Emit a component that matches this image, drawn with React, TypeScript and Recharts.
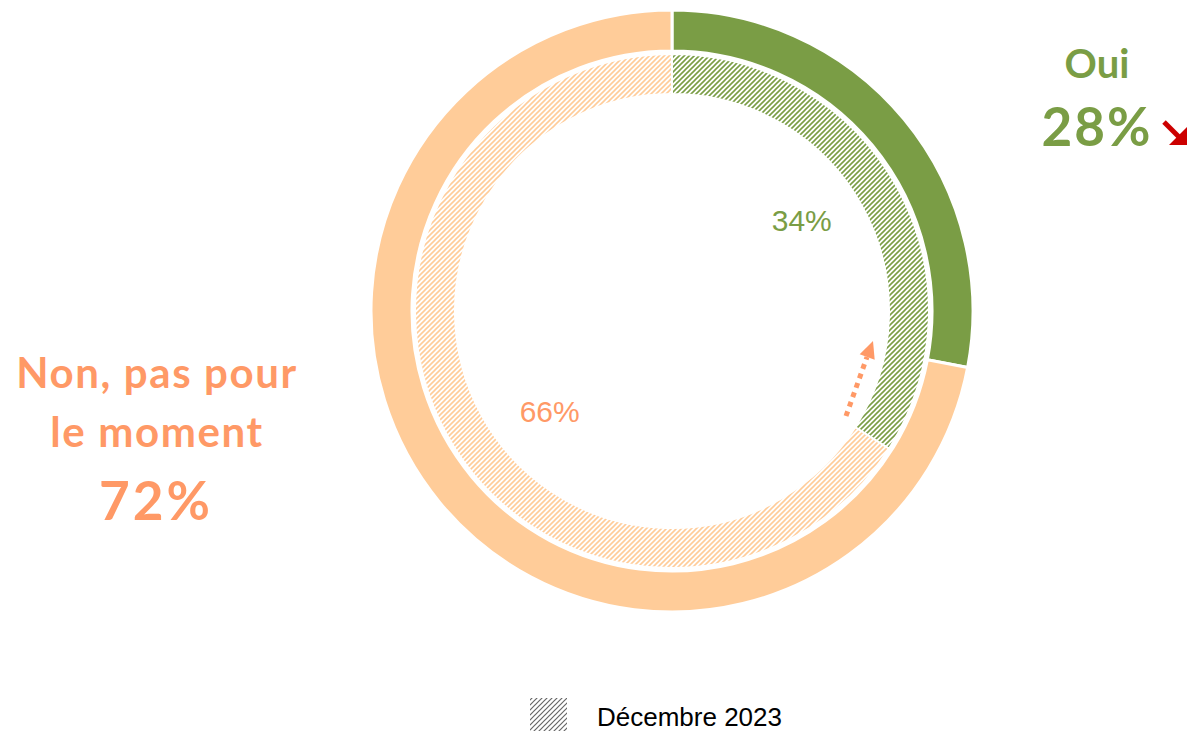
import React from "react";
import { PieChart, Pie, Cell } from "recharts";

const categories = ["Oui", "Non, pas pour le moment"];
const currentValues = [28, 72];
const previousValues = [34, 66];
const previousLabel = "Décembre 2023";

const GREEN = "#7A9D45";
const ORANGE_LIGHT = "#FFCC99";
const ORANGE_TEXT = "#FF9966";

const currentData = categories.map((name, i) => ({ name, value: currentValues[i] }));
const previousData = categories.map((name, i) => ({ name, value: previousValues[i] }));

const RAD = Math.PI / 180;
const labelAngleOffsets = [6, 10.5];

const renderInnerLabel = (props: any) => {
  const { cx, cy, midAngle, index, value } = props;
  const a = (midAngle + labelAngleOffsets[index]) * RAD;
  const r = 158;
  const x = cx + r * Math.cos(a);
  const y = cy - r * Math.sin(a);
  return (
    <text
      x={x}
      y={y}
      textAnchor="middle"
      dominantBaseline="central"
      fill={index === 0 ? GREEN : ORANGE_TEXT}
      fontFamily="'Liberation Sans', Arial, sans-serif"
      fontSize={30}
    >
      {value}%
    </text>
  );
};

const hatch = (id: string, color: string, w: number) => (
  <pattern id={id} patternUnits="userSpaceOnUse" width="5" height="5">
    <path d="M0,5 L5,0 M-1,1 L1,-1 M4,6 L6,4" stroke={color} strokeWidth={w} />
  </pattern>
);

export default function App() {
  const W = 1189;
  const H = 731;
  const boldFont = "Lato, sans-serif";
  return (
    <div style={{ position: "relative", width: W, height: H, overflow: "hidden" }}>
      <style>{`body{margin:0}`}</style>
      <PieChart width={W} height={H} margin={{ top: 0, right: 0, bottom: 0, left: 0 }}>
        <defs>
          {hatch("hatchGreen", GREEN, 1.6)}
          {hatch("hatchOrange", ORANGE_LIGHT, 1.6)}
        </defs>
        <Pie
          data={currentData}
          dataKey="value"
          cx={672}
          cy={311}
          innerRadius={260}
          outerRadius={301}
          startAngle={90}
          endAngle={-270}
          stroke="#fff"
          strokeWidth={3}
          isAnimationActive={false}
          label={false}
          labelLine={false}
        >
          <Cell fill={GREEN} />
          <Cell fill={ORANGE_LIGHT} />
        </Pie>
        <Pie
          data={previousData}
          dataKey="value"
          cx={672}
          cy={311}
          innerRadius={217}
          outerRadius={257}
          startAngle={90}
          endAngle={-270}
          stroke="#fff"
          strokeWidth={2}
          isAnimationActive={false}
          label={renderInnerLabel}
          labelLine={false}
        >
          <Cell fill="url(#hatchGreen)" />
          <Cell fill="url(#hatchOrange)" />
        </Pie>
      </PieChart>
      <svg width={W} height={H} style={{ position: "absolute", left: 0, top: 0, pointerEvents: "none" }}>
        <defs>{hatch("hatchGrayLegend", "#666", 1.2)}</defs>
        {/* Oui label */}
        <text x={1097} y={78} textAnchor="middle" fill={GREEN} fontFamily={boldFont} fontWeight="bold" fontSize={40}>
          {categories[0]}
        </text>
        <text x={1097} y={146} textAnchor="middle" fill={GREEN} fontFamily={boldFont} fontWeight="bold" fontSize={53} letterSpacing={2}>
          {currentValues[0]}%
        </text>
        {/* red down arrow */}
        <line x1={1164} y1={122} x2={1181} y2={139} stroke="#CC0000" strokeWidth={5} />
        <polygon points="1187,145 1187,127 1169,145" fill="#CC0000" />
        {/* Non label */}
        <text x={157} y={388} textAnchor="middle" fill={ORANGE_TEXT} fontFamily={boldFont} fontWeight="bold" fontSize={42} letterSpacing={1.6}>
          Non, pas pour
        </text>
        <text x={157} y={447} textAnchor="middle" fill={ORANGE_TEXT} fontFamily={boldFont} fontWeight="bold" fontSize={42} letterSpacing={1.6}>
          le moment
        </text>
        <text x={156} y={520} textAnchor="middle" fill={ORANGE_TEXT} fontFamily={boldFont} fontWeight="bold" fontSize={53} letterSpacing={3}>
          {currentValues[1]}%
        </text>
        {/* dotted trend arrow */}
        <line x1={846} y1={416} x2={867} y2={357} stroke={ORANGE_TEXT} strokeWidth={5} strokeDasharray="5 5" />
        <polygon points="873,341 859.7,354.3 874.7,359.7" fill={ORANGE_TEXT} />
        {/* legend */}
        <rect x={530} y={698} width={37} height={33} fill="url(#hatchGrayLegend)" />
        <text x={597} y={726} fill="#000" fontFamily="'Liberation Sans', Arial, sans-serif" fontSize={26}>
          {previousLabel}
        </text>
      </svg>
    </div>
  );
}
